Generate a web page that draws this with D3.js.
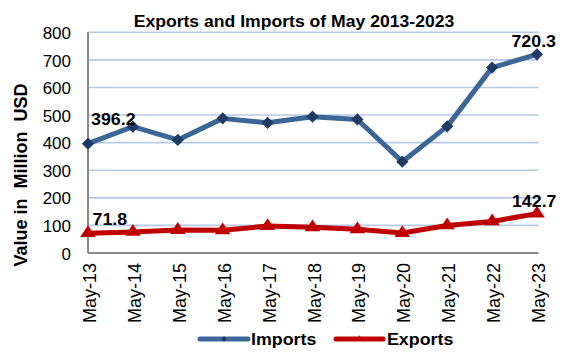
<!DOCTYPE html>
<html>
<head>
<meta charset="utf-8">
<script src="https://cdn.jsdelivr.net/npm/d3@7"></script>
<style>
  html, body { margin: 0; padding: 0; background: #fff; }
  svg { display: block; font-family: "Liberation Sans", Arial, sans-serif; }
</style>
</head>
<body>
<svg id="chart" width="565" height="358"></svg>
<script>
const categories = ["May-13","May-14","May-15","May-16","May-17","May-18","May-19","May-20","May-21","May-22","May-23"];
const imports = [396.2, 458, 410, 488, 472, 494, 484, 331, 459, 672, 720.3];
const exports_ = [71.8, 76.5, 83.5, 82.5, 97.5, 93, 86, 72.5, 100, 114.5, 142.7];
const yTicks = [0, 100, 200, 300, 400, 500, 600, 700, 800];
const titleText = "Exports and Imports of May 2013-2023";
const yTitle = "Value in  Million  USD";
const seriesNames = ["Imports", "Exports"];

const svg = d3.select("#chart");
const L = 88, R = 537, T = 32.3, B = 253;
const x = d3.scalePoint().domain(categories).range([L, R]);
const y = d3.scaleLinear().domain([0, 800]).range([B, T]);

const impLine = "#3c6698", impMark = "#1f3a63";
const expColor = "#c00000";
const sx = 1.08;

function hText(g, txt, px, py, size, anchor, weight) {
  return g.append("text")
    .attr("transform", `translate(${px},${py}) scale(${sx},1)`)
    .attr("text-anchor", anchor || "start")
    .attr("font-size", size)
    .attr("font-weight", weight || "normal")
    .attr("fill", "#000")
    .text(txt);
}

// gridlines
svg.append("g").selectAll("line")
  .data(yTicks.filter(d => d > 0))
  .join("line")
  .attr("x1", L).attr("x2", R + 1.5)
  .attr("y1", d => y(d)).attr("y2", d => y(d))
  .attr("stroke", "#b7c9e8").attr("stroke-width", 1.6);

// y axis
const yAxis = svg.append("g").attr("transform", `translate(${L},0)`)
  .call(d3.axisLeft(y).tickValues(yTicks).tickSize(0).tickPadding(17));
yAxis.select(".domain").remove();
yAxis.selectAll("text")
  .attr("font-size", 17).attr("fill", "#000")
  .attr("font-family", "Liberation Sans, Arial, sans-serif")
  .attr("dy", "0.36em");

// x axis
const xAxis = svg.append("g").attr("transform", `translate(0,${B})`)
  .call(d3.axisBottom(x).tickSize(0));
xAxis.select(".domain").remove();
xAxis.selectAll("text")
  .attr("font-size", 18).attr("fill", "#000")
  .attr("font-family", "Liberation Sans, Arial, sans-serif")
  .attr("transform", "rotate(-90)")
  .attr("text-anchor", "end")
  .attr("x", -10).attr("y", 0).attr("dy", "0.42em");

// axis lines
svg.append("line").attr("x1", L).attr("x2", L).attr("y1", T).attr("y2", B)
  .attr("stroke", "#898989").attr("stroke-width", 2);
svg.append("line").attr("x1", L).attr("x2", R + 1.5).attr("y1", B).attr("y2", B)
  .attr("stroke", "#898989").attr("stroke-width", 2);

// lines
const line = d3.line().x((d, i) => x(categories[i])).y(d => y(d));
svg.append("path").datum(imports).attr("d", line)
  .attr("fill", "none").attr("stroke", impLine).attr("stroke-width", 5).attr("stroke-linejoin", "round");
svg.append("path").datum(exports_).attr("d", line)
  .attr("fill", "none").attr("stroke", expColor).attr("stroke-width", 5).attr("stroke-linejoin", "round");

// markers
const diamond = d3.symbol().type(d3.symbolDiamond2).size(95);
svg.append("g").selectAll("path").data(imports).join("path")
  .attr("d", diamond)
  .attr("transform", (d, i) => `translate(${x(categories[i])},${y(d)})`)
  .attr("fill", impMark);
svg.append("g").selectAll("path").data(exports_).join("path")
  .attr("d", d3.symbol().type(d3.symbolTriangle).size(80))
  .attr("transform", (d, i) => `translate(${x(categories[i])},${y(d)}) scale(1.15,1)`)
  .attr("fill", expColor);

// data labels
const lab = svg.append("g");
hText(lab, imports[0].toFixed(1), x(categories[0]) + 3, y(imports[0]) - 18.5, 16.5, "start", "bold");
hText(lab, exports_[0].toFixed(1), x(categories[0]) + 4.5, y(exports_[0]) - 8, 16.5, "start", "bold");
const n = categories.length - 1;
hText(lab, imports[n].toFixed(1), x(categories[n]) + 19, y(imports[n]) - 7.5, 16.5, "end", "bold");
hText(lab, exports_[n].toFixed(1), x(categories[n]) + 19.5, y(exports_[n]) - 7, 16.5, "end", "bold");

// title
hText(svg, titleText, 294, 26.5, 16.3, "middle", "bold");

// y title
svg.append("text")
  .attr("transform", `translate(27,${175}) rotate(-90)`)
  .attr("text-anchor", "middle")
  .attr("font-size", 18).attr("font-weight", "bold")
  .attr("xml:space", "preserve")
  .style("white-space", "pre")
  .text(yTitle);

// legend
const leg = svg.append("g");
const legItems = [
  {name: seriesNames[0], x1: 200, x2: 248, tx: 251, color: impLine, mark: impMark, sym: d3.symbolDiamond2},
  {name: seriesNames[1], x1: 336, x2: 383, tx: 387, color: expColor, mark: expColor, sym: d3.symbolTriangle}
];
legItems.forEach(it => {
  leg.append("line").attr("x1", it.x1).attr("x2", it.x2).attr("y1", 339).attr("y2", 339)
    .attr("stroke", it.color).attr("stroke-width", 5).attr("stroke-linecap", "round");
  leg.append("path").attr("d", d3.symbol().type(it.sym).size(18))
    .attr("transform", `translate(${(it.x1 + it.x2) / 2},339)`)
    .attr("fill", it.mark);
  hText(leg, it.name, it.tx, 345, 16.5, "start", "bold");
});
</script>
</body>
</html>
